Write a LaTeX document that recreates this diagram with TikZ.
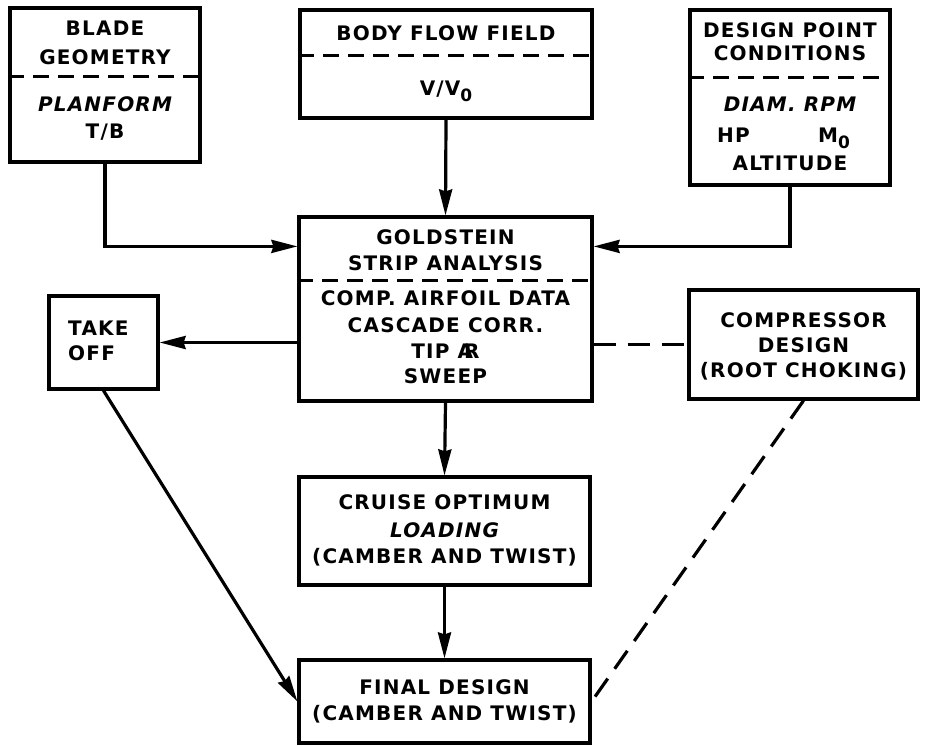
\documentclass[tikz,border=0pt]{standalone}
\usepackage{fontspec}
\setmainfont{DejaVu Sans}[LetterSpace=6]
\usetikzlibrary{arrows.meta,calc}
\begin{document}
\begin{tikzpicture}[x=1pt,y=-1pt,
  box/.style={draw,line width=3.2pt,inner sep=0pt,rectangle},
  lbl/.style={inner sep=0pt,anchor=base,font=\fontsize{20}{20}\selectfont\bfseries},
  lbli/.style={lbl,font=\fontsize{20}{20}\selectfont\bfseries\itshape},
  lblw/.style={lbl,anchor=base west},
  sep/.style={line width=3pt,dash pattern=on 16pt off 9pt},
  arr/.style={line width=3.2pt,-{Stealth[length=26pt,width=13pt,inset=2pt]}},
  dlink/.style={line width=3.2pt,dash pattern=on 22pt off 12pt}]
\useasboundingbox (0,0) rectangle (925,745);
% boxes
\node[box,minimum width=190pt,minimum height=154pt] (blade) at (105,85) {};
\node[box,minimum width=292pt,minimum height=108pt] (body) at (446,64) {};
\node[box,minimum width=200pt,minimum height=175pt] (design) at (790,97.5) {};
\node[box,minimum width=293pt,minimum height=184pt] (gold) at (445.5,309) {};
\node[box,minimum width=109pt,minimum height=93pt] (take) at (103.5,342.5) {};
\node[box,minimum width=229pt,minimum height=109pt] (comp) at (803.5,344.5) {};
\node[box,minimum width=291pt,minimum height=108pt] (cruise) at (444.5,531) {};
\node[box,minimum width=291pt,minimum height=83pt] (final) at (444.5,701.5) {};
% dividers
\draw[sep] ([yshift=-70pt]blade.north west) -- ([yshift=-70pt]blade.north east);
\draw[sep] ([yshift=-47pt]body.north west) -- ([yshift=-47pt]body.north east);
\draw[sep] ([yshift=-69pt]design.north west) -- ([yshift=-69pt]design.north east);
\draw[sep] ([yshift=-65pt]gold.north west) -- ([yshift=-65pt]gold.north east);
% texts
\node[lbl] (t1) at (105,35) {BLADE};
\node[lbl] (t2) at (105,64) {GEOMETRY};
\node[lbli] (t3) at (105,111) {PLANFORM};
\node[lbl] (t4) at (105,138) {T/B};
\node[lbl] (t5) at (446,40) {BODY FLOW FIELD};
\node[lbl] (t6) at (446,95) {V/V\raisebox{-6pt}{\fontsize{17}{17}\selectfont 0}};
\node[lbl] (t7) at (790,37) {DESIGN POINT};
\node[lbl] (t8) at (790,60) {CONDITIONS};
\node[lbli] (t9) at (790,111) {DIAM. RPM};
\node[lblw] (t10) at (717,142) {HP};
\node[lblw] (t11) at (818,142) {M\raisebox{-6pt}{\fontsize{17}{17}\selectfont 0}};
\node[lbl] (t12) at (790,170) {ALTITUDE};
\node[lbl] (g1) at (445.5,244) {GOLDSTEIN};
\node[lbl] (g2) at (445.5,270) {STRIP ANALYSIS};
\node[lbl] (g3) at (445.5,305) {COMP. AIRFOIL DATA};
\node[lbl] (g4) at (445.5,332) {CASCADE CORR.};
\node[lbl] (g5) at (445.5,358) {TIP A\kern-0.45em R};
\node[lbl] (g6) at (445.5,383) {SWEEP};
\node[lblw] (k1) at (68,335) {TAKE};
\node[lblw] (k2) at (68,360) {OFF};
\node[lbl] (c1) at (803.5,327) {COMPRESSOR};
\node[lbl] (c2) at (803.5,352) {DESIGN};
\node[lbl] (c3) at (803.5,377) {(ROOT CHOKING)};
\node[lbl] (r1) at (444.5,509) {CRUISE OPTIMUM};
\node[lbli] (r2) at (444.5,537) {LOADING};
\node[lbl] (r3) at (444.5,563) {(CAMBER AND TWIST)};
\node[lbl] (f1) at (444.5,694) {FINAL DESIGN};
\node[lbl] (f2) at (444.5,720) {(CAMBER AND TWIST)};
% connectors
\draw[arr] (blade.south) |- ([yshift=-31pt]gold.north west);
\draw[arr] (body.south) -- (gold.north);
\draw[arr] (design.south) |- ([yshift=-31pt]gold.north east);
\draw[arr] (take.east -| gold.west) -- (take.east);
\draw[dlink] (comp.west -| gold.east) -- (comp.west);
\draw[arr] (gold.south) -- (cruise.north);
\draw[arr] (cruise.south) -- (final.north);
\draw[arr] (take.south) -- (final.west);
\draw[dlink] (comp.south) -- (final.east);
\end{tikzpicture}
\end{document}
